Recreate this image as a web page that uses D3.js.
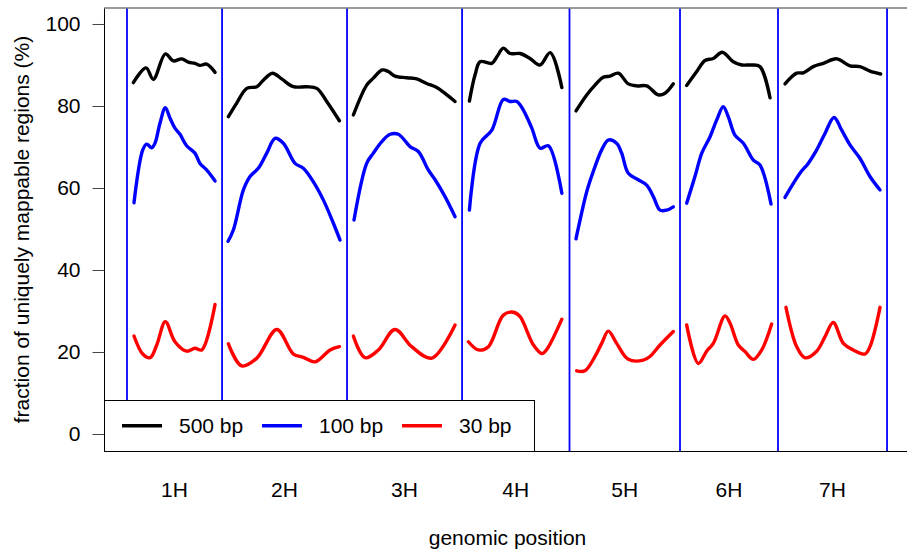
<!DOCTYPE html>
<html>
<head>
<meta charset="utf-8">
<script src="https://cdn.jsdelivr.net/npm/d3@7"></script>
<style>
  html, body { margin: 0; padding: 0; background: #fff; }
  svg { display: block; font-family: "Liberation Sans", Arial, Helvetica, sans-serif; }
</style>
</head>
<body>
<svg id="chart" width="907" height="549"></svg>
<script>
// Chromosomes and their lengths (Mb), laid end to end along the x axis
const chromosomes = ["1H", "2H", "3H", "4H", "5H", "6H", "7H"];
const chromLengths = [585, 769, 708, 661, 680, 603, 671];

// Fraction of uniquely mappable regions (%), [position within chromosome (Mb), value]
const read500 = [
  [[39,85.7],[117,89.3],[162,86.5],[236,92.7],[285,91.0],[337,91.5],[377,90.7],[418,90.4],[449,89.9],[490,90.2],[542,88.2]],
  [[39,77.4],[90,80.7],[152,84.3],[214,84.7],[254,86.3],[310,88.0],[367,86.6],[439,84.7],[521,84.7],[583,84.3],[644,81.1],[722,76.4]],
  [[39,77.8],[121,85.1],[162,86.8],[217,88.8],[254,88.4],[295,87.3],[367,86.9],[429,86.6],[490,85.5],[552,84.5],[603,83.1],[665,81.1]],
  [[45,81.2],[80,87.6],[111,90.8],[183,90.4],[214,92.0],[254,94.1],[295,92.8],[357,92.8],[418,91.6],[480,90.0],[542,93.0],[614,84.5]],
  [[40,78.8],[106,82.7],[157,85.1],[208,87.0],[249,87.3],[300,88.0],[362,85.4],[414,84.9],[475,84.9],[546,82.7],[588,83.1],[639,85.4]],
  [[41,85.0],[103,88.4],[154,91.1],[205,91.6],[260,93.1],[328,90.8],[380,90.0],[441,90.0],[492,89.6],[554,82.0]],
  [[43,85.4],[115,88.0],[156,88.1],[217,89.6],[279,90.4],[361,91.5],[443,89.8],[505,89.6],[566,88.5],[632,87.8]]
];
const read100 = [
  [[43,56.4],[97,69.3],[121,70.7],[152,69.8],[172,70.9],[203,75.8],[236,79.6],[265,77.0],[295,74.6],[326,73.1],[367,70.3],[418,68.5],[449,66.0],[490,64.4],[542,61.7]],
  [[37,47.0],[70,49.8],[131,59.5],[172,62.8],[223,64.8],[275,68.5],[326,72.1],[377,70.9],[449,66.0],[500,64.8],[562,61.5],[623,57.1],[685,51.4],[726,47.3]],
  [[43,52.2],[121,66.0],[162,68.5],[214,71.3],[265,73.1],[316,73.1],[388,70.1],[439,68.9],[500,64.4],[542,62.0],[603,57.9],[665,53.0]],
  [[45,54.6],[111,70.9],[183,74.1],[254,81.6],[295,81.1],[337,81.1],[377,79.0],[429,74.6],[480,69.7],[531,70.3],[614,58.7]],
  [[40,47.6],[54,50.2],[106,59.1],[157,65.2],[198,69.3],[239,71.7],[290,70.9],[321,68.5],[362,63.6],[423,62.0],[475,60.7],[516,57.9],[557,54.6],[598,54.6],[639,55.4]],
  [[41,56.3],[92,62.8],[134,68.5],[185,72.5],[226,76.6],[266,79.8],[297,77.4],[338,72.9],[390,70.9],[451,66.8],[492,65.6],[560,56.1]],
  [[43,57.7],[135,63.6],[186,66.0],[238,69.3],[289,73.3],[345,77.2],[392,74.1],[443,70.5],[505,67.2],[566,62.8],[628,59.5]]
];
const read30 = [
  [[43,23.9],[97,19.5],[142,18.6],[183,21.7],[236,27.4],[295,22.5],[367,20.2],[418,20.9],[460,20.5],[542,31.6]],
  [[39,22.0],[121,16.6],[214,18.5],[337,25.5],[439,19.5],[500,18.7],[572,17.6],[665,20.5],[722,21.3]],
  [[39,23.9],[111,18.6],[193,20.5],[295,25.5],[398,21.3],[521,18.5],[665,26.6]],
  [[39,22.5],[100,20.5],[162,21.3],[254,29.0],[316,29.7],[357,28.6],[439,21.7],[492,19.6],[521,20.6],[614,28.0]],
  [[44,15.4],[95,15.4],[157,18.9],[198,22.1],[239,25.1],[290,22.1],[362,18.2],[454,18.0],[495,18.9],[557,21.7],[639,25.0]],
  [[41,26.6],[113,17.2],[164,20.2],[205,22.1],[277,28.8],[308,27.0],[359,21.7],[400,20.1],[451,18.2],[503,20.5],[564,26.8]],
  [[49,30.9],[115,21.3],[166,18.6],[238,20.2],[289,23.7],[340,27.2],[402,22.1],[463,20.5],[535,19.5],[566,21.3],[628,30.9]]
];

const seriesNames = ["500 bp", "100 bp", "30 bp"];
const seriesColors = ["#000000", "#0000ff", "#ff0000"];
const yTicks = [0, 20, 40, 60, 80, 100];

const svg = d3.select("#chart");
const box = { left: 104, right: 911, top: 8, bottom: 451 };
const fontSize = 21;

// Cumulative chromosome starts
const starts = [0];
chromLengths.forEach((l, i) => starts.push(starts[i] + l));
const genomeEnd = starts[starts.length - 1];

const x = d3.scaleLinear().domain([-141.5, genomeEnd + 147.5]).range([box.left, box.right]);
const y = d3.scaleLinear().domain([-4.15, 103.9]).range([box.bottom, box.top]);

// Chromosome boundaries
svg.append("g").selectAll("line").data(starts).join("line")
  .attr("x1", d => x(d)).attr("x2", d => x(d))
  .attr("y1", box.top).attr("y2", box.bottom)
  .attr("stroke", "#0000ff").attr("stroke-width", 1.8);

// Mappability curves
const line = d3.line()
  .x(d => x(d[0]))
  .y(d => y(d[1]))
  .curve(d3.curveCatmullRom.alpha(0.5));

[read500, read100, read30].forEach((series, si) => {
  const g = svg.append("g");
  series.forEach((pts, ci) => {
    const shifted = pts.map(p => [starts[ci] + p[0], p[1]]);
    g.append("path")
      .attr("d", line(shifted))
      .attr("fill", "none")
      .attr("stroke", seriesColors[si])
      .attr("stroke-width", 3.4)
      .attr("stroke-linecap", "round")
      .attr("stroke-linejoin", "round");
  });
});

// Plot frame
const frame = svg.append("g");
frame.append("line").attr("x1", box.left + 0.5).attr("x2", box.left + 0.5).attr("y1", box.top).attr("y2", box.bottom + 0.5)
  .attr("stroke", "#000").attr("stroke-width", 1);
frame.append("line").attr("x1", box.left).attr("x2", box.right).attr("y1", box.bottom + 0.5).attr("y2", box.bottom + 0.5)
  .attr("stroke", "#000").attr("stroke-width", 1);
frame.append("line").attr("x1", box.left).attr("x2", box.right).attr("y1", box.top).attr("y2", box.top)
  .attr("stroke", "#777").attr("stroke-width", 1.5);

// Y axis: ticks point outward from the frame's left edge
const yAxis = d3.axisLeft(y).tickValues(yTicks).tickSize(12).tickPadding(12).tickFormat(d3.format("d"));
const ya = svg.append("g").attr("transform", `translate(${box.left + 0.5},0)`).call(yAxis);
ya.select(".domain").remove();
ya.selectAll(".tick line").attr("stroke", "#444");
ya.selectAll(".tick text").attr("font-size", fontSize).attr("fill", "#000")
  .attr("font-family", "\"Liberation Sans\", Arial, sans-serif");

// Chromosome labels at the middle of each chromosome
svg.append("g").selectAll("text").data(chromosomes).join("text")
  .attr("x", (d, i) => x(starts[i] + chromLengths[i] / 2))
  .attr("y", 497)
  .attr("text-anchor", "middle")
  .attr("font-size", fontSize)
  .text(d => d);

// Axis titles
svg.append("text")
  .attr("x", (box.left + box.right) / 2).attr("y", 545)
  .attr("text-anchor", "middle").attr("font-size", fontSize)
  .text("genomic position");
svg.append("text")
  .attr("transform", `translate(29,${(box.top + box.bottom) / 2}) rotate(-90)`)
  .attr("text-anchor", "middle").attr("font-size", fontSize)
  .text("fraction of uniquely mappable regions (%)");

// Legend
const legend = svg.append("g");
legend.append("rect")
  .attr("x", box.left + 0.5).attr("y", 400.5).attr("width", 430).attr("height", box.bottom - 400)
  .attr("fill", "#fff").attr("stroke", "#000").attr("stroke-width", 1);
const legendLineX = [122, 262, 402];
seriesNames.forEach((name, i) => {
  legend.append("line")
    .attr("x1", legendLineX[i]).attr("x2", legendLineX[i] + 40)
    .attr("y1", 425.7).attr("y2", 425.7)
    .attr("stroke", seriesColors[i]).attr("stroke-width", 3.4);
  legend.append("text")
    .attr("x", legendLineX[i] + 57).attr("y", 433)
    .attr("font-size", fontSize)
    .text(name);
});
</script>
</body>
</html>
